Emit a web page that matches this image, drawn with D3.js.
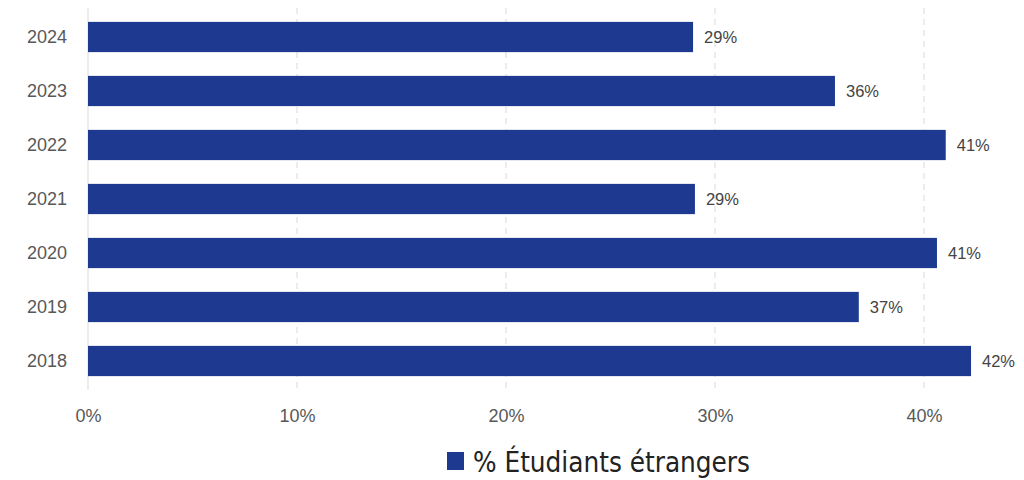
<!DOCTYPE html>
<html>
<head>
<meta charset="utf-8">
<script src="https://cdn.jsdelivr.net/npm/d3@7"></script>
<style>
  body { margin: 0; background: #fff; }
  svg { display: block; }
</style>
</head>
<body>
<svg id="chart" width="1024" height="480"></svg>
<script>
// data
const years = ["2024", "2023", "2022", "2021", "2020", "2019", "2018"];
const shares = [28.95, 35.74, 41.04, 29.04, 40.62, 36.88, 42.25];
const tickValues = [0, 10, 20, 30, 40];
const seriesName = "% Étudiants étrangers";

const barColor = "#1d3a90";
const textColor = "#585858";

const svg = d3.select("#chart");

//scales
const x = d3.scaleLinear().domain([0, 40]).range([88, 924]);
const y = d3.scaleBand()
    .domain(years)
    .range([10, 388])
    .paddingInner(0.44)
    .paddingOuter(0.22);

const rows = years.map((yr, i) => ({year: yr, value: shares[i]}));

//grid
svg.append("g").attr("class", "grid")
    .selectAll("line")
    .data(tickValues)
    .enter().append("line")
    .attr("x1", d => x(d)).attr("x2", d => x(d))
    .attr("y1", 8).attr("y2", 390)
    .attr("stroke", "#d9d9d9")
    .attr("stroke-width", 1)
    .attr("stroke-dasharray", d => d === 0 ? null : "6,5");

//bars
svg.append("g").attr("class", "bars")
    .selectAll("rect")
    .data(rows)
    .enter().append("rect")
    .attr("x", x(0))
    .attr("y", d => y(d.year))
    .attr("width", d => x(d.value) - x(0))
    .attr("height", y.bandwidth())
    .attr("fill", barColor);

//value labels
svg.append("g").attr("class", "labels")
    .selectAll("text")
    .data(rows)
    .enter().append("text")
    .attr("x", d => x(d.value) + 11)
    .attr("y", d => y(d.year) + y.bandwidth() / 2)
    .attr("dy", "0.36em")
    .attr("font-family", "Liberation Sans, Arial, sans-serif")
    .attr("font-size", 16.5)
    .attr("fill", "#444")
    .text(d => Math.round(d.value) + "%");

//x axis
const xAxis = svg.append("g")
    .attr("transform", "translate(0,406)")
    .call(d3.axisBottom(x).tickValues(tickValues).tickSize(0).tickFormat(d => d + "%"));
xAxis.select(".domain").remove();
xAxis.selectAll("text")
    .attr("font-family", "Liberation Sans, Arial, sans-serif")
    .attr("font-size", 18)
    .attr("fill", textColor);

//y axis
const yAxis = svg.append("g")
    .attr("transform", "translate(67,0)")
    .call(d3.axisLeft(y).tickSize(0).tickPadding(0));
yAxis.select(".domain").remove();
yAxis.selectAll("text")
    .attr("font-family", "Liberation Sans, Arial, sans-serif")
    .attr("font-size", 18)
    .attr("fill", textColor);

//legend
const legend = svg.append("g").attr("class", "legend");
legend.append("rect")
    .attr("x", 447).attr("y", 452)
    .attr("width", 17).attr("height", 18)
    .attr("fill", barColor);
legend.append("text")
    .attr("x", 473).attr("y", 472)
    .attr("font-family", "Liberation Sans Narrow, DejaVu Sans Condensed, sans-serif")
    .attr("font-size", 28)
    .attr("fill", "#222")
    .attr("textLength", 277)
    .attr("lengthAdjust", "spacingAndGlyphs")
    .text(seriesName);
</script>
</body>
</html>
